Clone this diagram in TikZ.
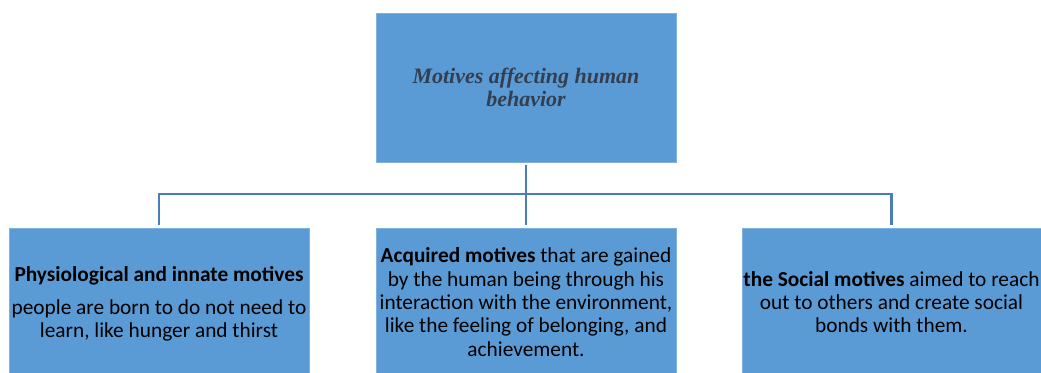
\documentclass[tikz,border=0pt]{standalone}
\usepackage{fontspec}
\setmainfont{Carlito}
\newfontfamily\titlefont{Liberation Serif}
\usepackage{tikz}
\definecolor{boxblue}{HTML}{5B9BD5}
\definecolor{boxedge}{HTML}{7FB0DE}
\definecolor{linkblue}{HTML}{4A7EBB}
\definecolor{titlegray}{HTML}{333F50}

\begin{document}
\begin{tikzpicture}[x=0.75pt,y=-0.75pt]
			\useasboundingbox (0,0) rectangle (1041,372);

			\begin{scope}[every node/.style={rectangle,fill=boxblue,draw=boxedge,line width=0.6pt,inner sep=0pt,align=center,font=\fontsize{16}{17.5}\selectfont}]
				\node (top) [minimum width=225pt,minimum height=111.75pt] at (526,87.5)
					{\titlefont\fontsize{16.5}{17.5}\selectfont\bfseries\itshape\color{titlegray}Motives affecting human\\\titlefont\fontsize{16.5}{17.5}\selectfont\bfseries\itshape\color{titlegray}behavior};
				\node (phys) [minimum width=225pt,minimum height=114pt] at (159,304)
					{\textbf{Physiological and innate motives}\\[7pt]
					 people are born to do not need to\\ learn, like hunger and thirst};
				\node (acq) [minimum width=225pt,minimum height=111pt] at (526,302)
					{\textbf{Acquired motives} that are gained\\ by the human being through his\\
					 interaction with the environment,\\ like the feeling of belonging, and\\ achievement.};
				\node (soc) [minimum width=224.25pt,minimum height=111pt] at (891.5,302)
					{\textbf{the Social motives} aimed to reach\\ out to others and create social\\ bonds with them.};
			\end{scope}

			\coordinate (bar) at (526,194);

			\begin{scope}[linkblue,line width=1.6pt,shorten >=2.25pt]
				\draw [shorten <=2.25pt] (top.south) -- (acq.north);
				\draw (top.south |- bar) -| (phys.north);
				\draw (top.south |- bar) -| (soc.north);
			\end{scope}
		\end{tikzpicture}
\end{document}
